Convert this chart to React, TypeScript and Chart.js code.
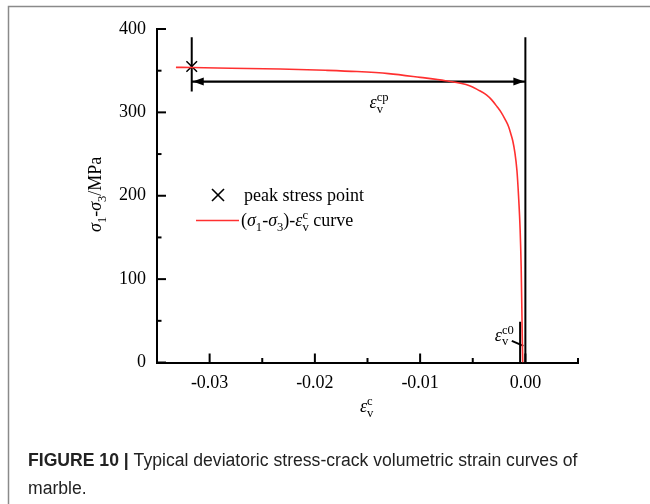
import React, { useEffect, useRef } from 'react';
import { Chart, registerables } from 'chart.js';

Chart.register(...registerables);

// ---- data ----
const curveStrain = [-0.0332, -0.0317, -0.028, -0.0233, -0.019, -0.016, -0.013, -0.010, -0.0076, -0.0053, -0.0045, -0.0037, -0.0032, -0.0027, -0.0023, -0.0019, -0.0016, -0.0014, -0.0012, -0.001, -0.0008, -0.00065, -0.0005, -0.0004, -0.00033, -0.00028, -0.00025];
const curveStress = [354, 353.8, 353, 352, 350.5, 349, 346.5, 342, 338, 332, 327, 321, 315, 307, 300, 291, 283, 275, 266, 252, 230, 200, 160, 115, 60, 20, 0];

const peakStrain = -0.0317;
const peakStress = 355;
const peakLineStress = [325, 390];
const zeroLineStrain = 0;
const zeroLineStress = [0, 390];
const arrowStress = 337;
const c0Strain = -0.0005;
const c0LineStress = [0, 49];
const leaderStrain = [-0.00129, -0.00019];
const leaderStress = [26, 20];

const xMajorTicks = [-0.03, -0.02, -0.01, 0.0];
const xMinorTicks = [-0.035, -0.025, -0.015, -0.005, 0.005];
const yMajorTicks = [0, 100, 200, 300, 400];
const yMinorTicks = [50, 150, 250, 350];
const xMin = -0.035;
const xMax = 0.005;
const yMin = 0;
const yMax = 400;

const legendLabels = ['peak stress point', 'curve'];
const captionBold = 'FIGURE 10 |';
const captionLine1 = ' Typical deviatoric stress-crack volumetric strain curves of';
const captionLine2 = 'marble.';

const SERIF = "'Liberation Serif', 'Times New Roman', serif";
const SANS = "'Liberation Sans', Arial, sans-serif";

type Part = { t: string; it?: boolean; sub?: boolean; sup?: boolean; stack?: boolean };

function drawRich(ctx: CanvasRenderingContext2D, x: number, y: number, parts: Part[], size: number) {
  let cx = x;
  let prevStart = x;
  ctx.textBaseline = 'alphabetic';
  ctx.textAlign = 'left';
  for (const p of parts) {
    const small = p.sub || p.sup;
    const fs = small ? size * 0.7 : size;
    ctx.font = `${p.it ? 'italic ' : ''}${fs}px ${SERIF}`;
    const dy = p.sub ? size * 0.25 : p.sup ? -size * 0.4 : 0;
    const sx = p.stack ? prevStart : cx;
    ctx.fillText(p.t, sx, y + dy);
    const w = ctx.measureText(p.t).width;
    if (p.stack) {
      cx = Math.max(cx, sx + w);
    } else {
      prevStart = sx;
      cx = sx + w;
    }
  }
  return cx;
}

const overlay = {
  id: 'overlay',
  afterDatasetsDraw(chart: any) {
    const ctx: CanvasRenderingContext2D = chart.ctx;
    const xs = chart.scales.x;
    const ys = chart.scales.y;
    const area = chart.chartArea;
    ctx.save();
    ctx.strokeStyle = '#000';
    ctx.fillStyle = '#000';
    // inward ticks
    ctx.lineWidth = 2;
    const tick = (x1: number, y1: number, x2: number, y2: number) => {
      ctx.beginPath();
      ctx.moveTo(x1, y1);
      ctx.lineTo(x2, y2);
      ctx.stroke();
    };
    yMajorTicks.forEach((v) => { const p = ys.getPixelForValue(v); tick(area.left, p, area.left + 9, p); });
    yMinorTicks.forEach((v) => { const p = ys.getPixelForValue(v); tick(area.left, p, area.left + 4.5, p); });
    xMajorTicks.forEach((v) => { const p = xs.getPixelForValue(v); tick(p, area.bottom, p, area.bottom - 9); });
    xMinorTicks.forEach((v) => { const p = xs.getPixelForValue(v); tick(p, area.bottom, p, area.bottom - 4.5); });

    // arrow heads
    const ay = ys.getPixelForValue(arrowStress);
    const axL = xs.getPixelForValue(peakStrain);
    const axR = xs.getPixelForValue(zeroLineStrain);
    const head = (tipX: number, dir: number) => {
      ctx.beginPath();
      ctx.moveTo(tipX, ay);
      ctx.lineTo(tipX - dir * 11, ay - 4);
      ctx.lineTo(tipX - dir * 11, ay + 4);
      ctx.closePath();
      ctx.fill();
    };
    head(axL + 1, -1);
    head(axR - 1, 1);

    // label eps_v^cp
    drawRich(ctx, xs.getPixelForValue(-0.0148), ys.getPixelForValue(305), [
      { t: 'ε', it: true }, { t: 'v', sub: true }, { t: 'cp', sup: true, stack: true },
    ], 18);
    // label eps_v^c0
    drawRich(ctx, xs.getPixelForValue(-0.0029), ys.getPixelForValue(26), [
      { t: 'ε', it: true }, { t: 'v', sub: true }, { t: 'c0', sup: true, stack: true },
    ], 18);

    // legend
    ctx.lineWidth = 1.6;
    tick(212, 189, 224, 201);
    tick(212, 201, 224, 189);
    ctx.fillStyle = '#000';
    ctx.font = `18px ${SERIF}`;
    ctx.fillText(legendLabels[0], 244, 201);
    ctx.strokeStyle = '#ff3030';
    tick(196, 220.5, 239, 220.5);
    drawRich(ctx, 241, 226, [
      { t: '(' }, { t: 'σ', it: true }, { t: '1', sub: true }, { t: '-' }, { t: 'σ', it: true }, { t: '3', sub: true },
      { t: ')-' }, { t: 'ε', it: true }, { t: 'v', sub: true }, { t: 'c', sup: true, stack: true }, { t: ' ' + legendLabels[1] },
    ], 18);

    // axis titles
    drawRich(ctx, 360, 412, [{ t: 'ε', it: true }, { t: 'v', sub: true }, { t: 'c', sup: true, stack: true }], 18);
    ctx.save();
    ctx.translate(101, 232);
    ctx.rotate(-Math.PI / 2);
    drawRich(ctx, 0, 0, [
      { t: 'σ', it: true }, { t: '1', sub: true }, { t: '-' }, { t: 'σ', it: true }, { t: '3', sub: true }, { t: '/MPa' },
    ], 18);
    ctx.restore();

    // frame
    ctx.strokeStyle = '#8a8a8a';
    ctx.lineWidth = 1.5;
    ctx.beginPath();
    ctx.moveTo(8.5, 504);
    ctx.lineTo(8.5, 6.5);
    ctx.lineTo(650, 6.5);
    ctx.stroke();

    // caption
    ctx.fillStyle = '#222';
    ctx.font = `bold 17.6px ${SANS}`;
    ctx.fillText(captionBold, 28, 466);
    const bw = ctx.measureText(captionBold).width;
    ctx.font = `17.6px ${SANS}`;
    ctx.fillText(captionLine1, 28 + bw, 466);
    ctx.fillText(captionLine2, 28, 494);
    ctx.restore();
  },
};

export default function App() {
  const ref = useRef<HTMLCanvasElement>(null);
  useEffect(() => {
    if (!ref.current) return;
    const black = '#000';
    const lineDs = (xsArr: number[], ysArr: number[], color: string, w: number) => ({
      data: xsArr.map((x, i) => ({ x, y: ysArr[i] })),
      borderColor: color,
      borderWidth: w,
      pointRadius: 0,
      showLine: true,
      fill: false,
    });
    const chart = new Chart(ref.current, {
      type: 'scatter',
      data: {
        datasets: [
          { ...lineDs(curveStrain, curveStress, '#ff3030', 1.6), cubicInterpolationMode: 'monotone' } as any,
          lineDs([peakStrain, peakStrain], peakLineStress, black, 2),
          lineDs([zeroLineStrain, zeroLineStrain], zeroLineStress, black, 2),
          lineDs([peakStrain, zeroLineStrain], [arrowStress, arrowStress], black, 2.2),
          lineDs([c0Strain, c0Strain], c0LineStress, black, 2),
          lineDs(leaderStrain, leaderStress, black, 2),
          {
            data: [{ x: peakStrain, y: peakStress }],
            pointStyle: 'crossRot',
            pointRadius: 7.5,
            borderColor: black,
            borderWidth: 1.5,
            showLine: false,
          } as any,
        ],
      },
      options: {
        animation: false,
        responsive: false,
        devicePixelRatio: 1,
        layout: { padding: { top: 29, right: 72, left: 0, bottom: 0 } },
        plugins: { legend: { display: false }, tooltip: { enabled: false } },
        scales: {
          x: {
            type: 'linear',
            min: xMin,
            max: xMax,
            grid: { display: false, drawTicks: false },
            border: { display: true, color: black, width: 2 },
            afterBuildTicks: (s: any) => { s.ticks = xMajorTicks.map((value) => ({ value })); },
            afterFit: (s: any) => { s.height = 141.5; },
            ticks: {
              color: black,
              padding: 10,
              maxRotation: 0,
              font: { family: SERIF, size: 18 },
              callback: (v: any) => Number(v).toFixed(2),
            },
          },
          y: {
            type: 'linear',
            min: yMin,
            max: yMax,
            grid: { display: false, drawTicks: false },
            border: { display: true, color: black, width: 2 },
            afterBuildTicks: (s: any) => { s.ticks = yMajorTicks.map((value) => ({ value })); },
            afterFit: (s: any) => { s.width = 157; },
            ticks: {
              color: black,
              padding: 11,
              font: { family: SERIF, size: 18 },
              callback: (v: any) => String(v),
            },
          },
        },
      },
      plugins: [overlay],
    });
    return () => chart.destroy();
  }, []);
  return (
    <div style={{ position: 'fixed', left: 0, top: 0, width: 650, height: 504, background: '#fff' }}>
      <canvas ref={ref} width={650} height={504} style={{ width: 650, height: 504, display: 'block' }} />
    </div>
  );
}
